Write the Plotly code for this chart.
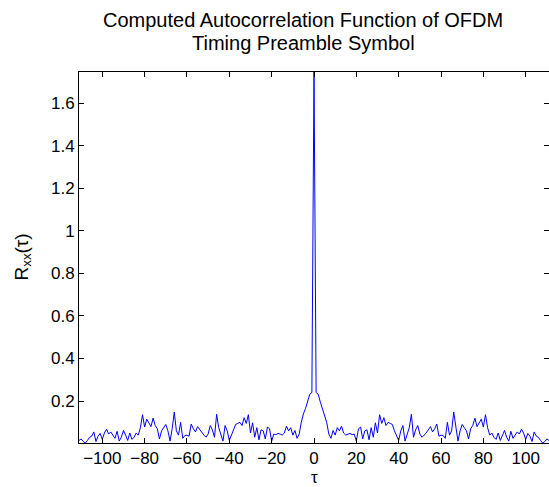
import plotly.graph_objects as go

# Lag axis (samples)
lags = list(range(-111, 112))

# |Rxx| for negative lags, -111 .. -1
rxx_neg = [
    0.015,
    0.022, 0.010, 0.003, 0.015, 0.030, 0.035, 0.055, 0.010, 0.035, 0.048,
    0.020, 0.050, 0.068, 0.045, 0.055, 0.040, 0.025, 0.058, 0.012, 0.030,
    0.062, 0.040, 0.015, 0.050, 0.020, 0.030, 0.050, 0.040, 0.075, 0.136,
    0.078, 0.115, 0.100, 0.080, 0.120, 0.085, 0.070, 0.022, 0.060, 0.075,
    0.090, 0.060, 0.012, 0.070, 0.148, 0.060, 0.040, 0.100, 0.025, 0.038,
    0.040, 0.035, 0.092, 0.070, 0.055, 0.080, 0.065, 0.050, 0.040, 0.030,
    0.045, 0.085, 0.065, 0.030, 0.138, 0.075, 0.040, 0.012, 0.085, 0.060,
    0.015, 0.040, 0.060, 0.090, 0.095, 0.100, 0.085, 0.122, 0.095, 0.136,
    0.050, 0.098, 0.030, 0.075, 0.018, 0.065, 0.060, 0.022, 0.078, 0.070,
    0.012, 0.045, 0.042, 0.048, 0.045, 0.040, 0.050, 0.082, 0.060, 0.075,
    0.040, 0.062, 0.025, 0.045, 0.100, 0.140, 0.165, 0.195, 0.232, 0.240,
]

# |Rxx| at zero lag
rxx_zero = [1.746]

# |Rxx| for positive lags, 1 .. 111
rxx_pos = [
    0.240, 0.232, 0.195, 0.165, 0.140, 0.100, 0.045, 0.025, 0.062, 0.040,
    0.075, 0.060, 0.082, 0.050, 0.040, 0.045, 0.048, 0.042, 0.045, 0.012,
    0.070, 0.078, 0.022, 0.060, 0.065, 0.018, 0.075, 0.030, 0.098, 0.050,
    0.136, 0.095, 0.122, 0.085, 0.100, 0.095, 0.090, 0.060, 0.040, 0.015,
    0.060, 0.085, 0.012, 0.040, 0.075, 0.138, 0.030, 0.065, 0.085, 0.045,
    0.030, 0.040, 0.050, 0.065, 0.080, 0.055, 0.070, 0.092, 0.035, 0.040,
    0.038, 0.025, 0.100, 0.040, 0.060, 0.148, 0.070, 0.012, 0.060, 0.090,
    0.075, 0.060, 0.022, 0.070, 0.085, 0.120, 0.080, 0.100, 0.115, 0.078,
    0.136, 0.075, 0.040, 0.050, 0.030, 0.020, 0.050, 0.015, 0.040, 0.062,
    0.030, 0.012, 0.058, 0.025, 0.040, 0.055, 0.045, 0.068, 0.050, 0.020,
    0.048, 0.035, 0.010, 0.055, 0.035, 0.030, 0.015, 0.003, 0.010, 0.022,
    0.015,
]

rxx = rxx_neg + rxx_zero + rxx_pos

x_ticks = [-100, -80, -60, -40, -20, 0, 20, 40, 60, 80, 100]
y_ticks = [0.2, 0.4, 0.6, 0.8, 1.0, 1.2, 1.4, 1.6]
y_tick_text = ["0.2", "0.4", "0.6", "0.8", "1", "1.2", "1.4", "1.6"]

title_lines = ["Computed Autocorrelation Function of OFDM", "Timing Preamble Symbol"]

FONT = "Liberation Sans, Arial, Helvetica, sans-serif"
PLOT_W = 470  # plot-area width in px
PLOT_H = 371  # plot-area height in px, used to place text in paper units

fig = go.Figure()
fig.add_trace(go.Scatter(
    x=lags, y=rxx, mode="lines",
    line=dict(color="#0000ff", width=1),
    showlegend=False, hoverinfo="skip",
))

axis_common = dict(
    showgrid=False, zeroline=False,
    showline=True, linecolor="black", linewidth=1, mirror="allticks",
    ticks="inside", ticklen=5, tickwidth=1, tickcolor="black",
    tickfont=dict(family=FONT, size=17, color="black"),
)

fig.update_xaxes(range=[min(lags), max(lags)], tickvals=x_ticks, **axis_common)
fig.update_yaxes(range=[min(rxx), max(rxx)], tickvals=y_ticks,
                 ticktext=y_tick_text, **axis_common)

annotations = []
# Two-line title
for text, offset_px in zip(title_lines, [52, 29]):
    annotations.append(dict(
        text=text, xref="paper", yref="paper",
        x=224 / PLOT_W, y=1 + offset_px / PLOT_H, xanchor="center", yanchor="middle",
        showarrow=False, font=dict(family=FONT, size=20, color="black"),
    ))
annotations += [
    dict(text="R<sub>xx</sub>(τ)", xref="paper", yref="paper",
         x=-57 / PLOT_W, y=0.5, xanchor="center", yanchor="middle",
         textangle=-90, showarrow=False,
         font=dict(family=FONT, size=19, color="black")),
    dict(text="τ", xref="paper", yref="paper",
         x=0.5, y=-34 / PLOT_H, xanchor="center", yanchor="middle",
         showarrow=False,
         font=dict(family=FONT, size=17, color="black")),
]

fig.update_layout(
    width=549, height=487,
    margin=dict(l=79, r=0, t=72, b=44),
    paper_bgcolor="white", plot_bgcolor="white",
    font=dict(family=FONT, color="black"),
    annotations=annotations,
)

fig.write_html("out.html")
